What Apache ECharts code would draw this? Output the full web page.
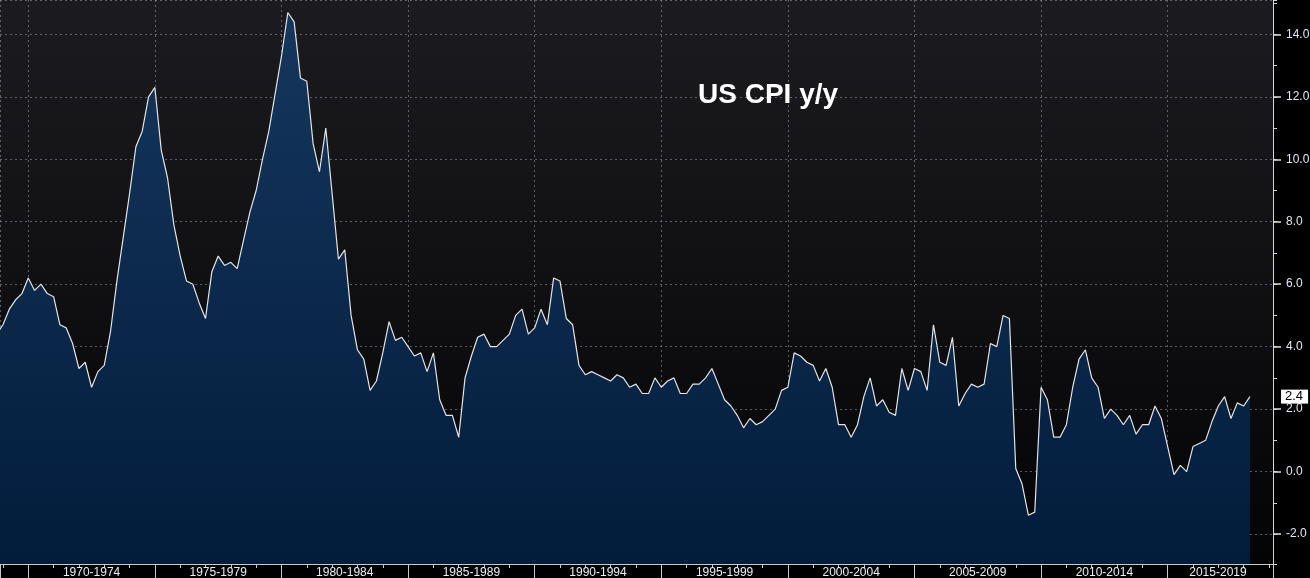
<!DOCTYPE html>
<html>
<head>
<meta charset="utf-8">
<script src="https://cdn.jsdelivr.net/npm/echarts@6/dist/echarts.min.js"></script>
<style>
html,body{margin:0;padding:0;background:#000;}
#chart{width:1310px;height:578px;}
</style>
</head>
<body>
<div id="chart"></div>
<script>
// ---- data (quarter-end US CPI y/y, %) ----
const chartTitle = 'US CPI y/y';
const firstPointYear = 1968.75;   // x position of the first quarterly point
const quarterStep = 0.25;
const cpiFrom1968 = [4.4, 4.7, 5.2, 5.5, 5.7];
const cpiFrom1970 = [6.2, 5.8, 6.0, 5.7, 5.6, 4.7, 4.6, 4.1, 3.3, 3.5,
                     2.7, 3.2, 3.4, 4.5, 6.1, 7.5, 8.9, 10.4, 10.9, 12.0,
                     12.3, 10.3, 9.4, 7.9, 6.9, 6.1, 6.0, 5.4, 4.9, 6.4,
                     6.9, 6.6, 6.7, 6.5, 7.4, 8.3, 9.0, 10.0, 10.9, 12.1];
const cpiFrom1980 = [13.3, 14.7, 14.4, 12.6, 12.5, 10.5, 9.6, 11.0, 8.9, 6.8,
                     7.1, 5.0, 3.9, 3.6, 2.6, 2.9, 3.8, 4.8, 4.2, 4.3,
                     4.0, 3.7, 3.8, 3.2, 3.8, 2.3, 1.8, 1.8, 1.1, 3.0,
                     3.7, 4.3, 4.4, 4.0, 4.0, 4.2, 4.4, 5.0, 5.2, 4.4];
const cpiFrom1990 = [4.6, 5.2, 4.7, 6.2, 6.1, 4.9, 4.7, 3.4, 3.1, 3.2,
                     3.1, 3.0, 2.9, 3.1, 3.0, 2.7, 2.8, 2.5, 2.5, 3.0,
                     2.7, 2.9, 3.0, 2.5, 2.5, 2.8, 2.8, 3.0, 3.3, 2.8,
                     2.3, 2.1, 1.8, 1.4, 1.7, 1.5, 1.6, 1.8, 2.0, 2.6];
const cpiFrom2000 = [2.7, 3.8, 3.7, 3.5, 3.4, 2.9, 3.3, 2.7, 1.5, 1.5,
                     1.1, 1.5, 2.4, 3.0, 2.1, 2.3, 1.9, 1.8, 3.3, 2.6,
                     3.3, 3.2, 2.6, 4.7, 3.5, 3.4, 4.3, 2.1, 2.5, 2.8,
                     2.7, 2.8, 4.1, 4.0, 5.0, 4.9, 0.1, -0.4, -1.4, -1.3];
const cpiFrom2010 = [2.7, 2.3, 1.1, 1.1, 1.5, 2.7, 3.6, 3.9, 3.0, 2.7,
                     1.7, 2.0, 1.8, 1.5, 1.8, 1.2, 1.5, 1.5, 2.1, 1.7,
                     0.8, -0.1, 0.2, 0.0, 0.8, 0.9, 1.0, 1.6, 2.1, 2.4,
                     1.7, 2.2, 2.1, 2.4];
const xExtent = [1968.883, 2019.16];
const yExtent = [-2.96, 15.1];
const bandYears = 5;
const yStep = 2;

// ---- build ----
const cpiValues = [].concat(cpiFrom1968, cpiFrom1970, cpiFrom1980, cpiFrom1990, cpiFrom2000, cpiFrom2010);
const seriesData = cpiValues.map((v, i) => [firstPointYear + i * quarterStep, v]);
const lastValue = cpiValues[cpiValues.length - 1];
const halfBand = bandYears / 2;
const lastBandStart = Math.floor(xExtent[1] / bandYears) * bandYears;

const gridColor = 'rgba(150,160,178,0.55)';
const fontFam = '"Liberation Sans", Arial, sans-serif';

const chart = echarts.init(document.getElementById('chart'), null, {renderer: 'canvas'});
chart.setOption({
  backgroundColor: '#000',
  animation: false,
  title: {
    text: chartTitle,
    left: 693, top: 76,
    textStyle: {color: '#ffffff', fontSize: 28, fontWeight: 'bold', fontFamily: fontFam}
  },
  grid: {
    left: 0, right: 37, top: 0, bottom: 14,
    containLabel: false, outerBoundsMode: 'none',
    show: true, borderWidth: 0,
    backgroundColor: new echarts.graphic.LinearGradient(0, 0, 0, 1, [
      {offset: 0, color: '#1c1c20'},
      {offset: 1, color: '#040406'}
    ])
  },
  xAxis: [
    { // main axis: 5-year boundaries
      type: 'value', min: xExtent[0], max: xExtent[1],
      minInterval: bandYears, maxInterval: bandYears, splitNumber: 10,
      position: 'bottom',
      axisLine: {show: true, onZero: false, lineStyle: {color: '#c9c9c9', width: 1}},
      axisTick: {show: true, length: 14, lineStyle: {color: '#c9c9c9', width: 1}},
      axisLabel: {show: false},
      splitLine: {show: true, lineStyle: {color: gridColor, type: [2, 3], width: 1}}
    },
    { // labels centred on each 5-year band
      type: 'value', min: xExtent[0] - halfBand, max: xExtent[1] - halfBand,
      minInterval: bandYears, maxInterval: bandYears, splitNumber: 10,
      position: 'bottom',
      axisLine: {show: false, onZero: false}, axisTick: {show: false}, splitLine: {show: false},
      axisLabel: {
        show: true, margin: 3, color: '#e8eef6', fontSize: 12, fontFamily: fontFam,
        showMinLabel: false, showMaxLabel: false,
        formatter: function (v) {
          if (Math.abs(v % bandYears) > 1e-6) return '';
          const t = v + '-' + (v + bandYears - 1);
          return v === lastBandStart ? '{last|' + t + '}' : t;
        },
        rich: {last: {color: '#e8eef6', fontSize: 12, fontFamily: fontFam, padding: [0, 26, 0, 0]}}
      }
    },
    { // yearly minor ticks
      type: 'value', min: xExtent[0], max: xExtent[1],
      minInterval: 1, maxInterval: 1, splitNumber: 50,
      position: 'bottom',
      axisLine: {show: false, onZero: false}, splitLine: {show: false}, axisLabel: {show: false},
      axisTick: {show: true, length: 4, lineStyle: {color: '#c9c9c9', width: 1}}
    }
  ],
  yAxis: [
    {
      type: 'value', position: 'right', min: yExtent[0], max: yExtent[1],
      minInterval: yStep, maxInterval: yStep, splitNumber: 9,
      axisLine: {show: true, onZero: false, lineStyle: {color: '#d6d6d6', width: 1}},
      axisTick: {show: true, length: 8, lineStyle: {color: '#e0e0e0', width: 1.5}},
      axisLabel: {
        show: true, margin: 13, color: '#dfe7f1', fontSize: 12, fontFamily: fontFam,
        showMinLabel: false, showMaxLabel: false,
        formatter: function (v) {
          if (Math.abs(v % yStep) > 1e-6) return '';
          return v.toFixed(1);
        }
      },
      splitLine: {show: true, lineStyle: {color: gridColor, type: [2, 3], width: 1}}
    },
    {
      type: 'value', position: 'right', min: yExtent[0], max: yExtent[1],
      minInterval: 1, maxInterval: 1, splitNumber: 18,
      axisLine: {show: false, onZero: false}, splitLine: {show: false}, axisLabel: {show: false},
      axisTick: {show: true, length: 4, lineStyle: {color: '#d6d6d6', width: 1}}
    }
  ],
  series: [{
    type: 'line',
    xAxisIndex: 0, yAxisIndex: 0,
    data: seriesData,
    showSymbol: false,
    clip: true,
    lineStyle: {color: '#e4e4e4', width: 1.2},
    areaStyle: {
      origin: 'start',
      opacity: 1,
      color: new echarts.graphic.LinearGradient(0, 0, 0, 564, [
        {offset: 0, color: '#16375e'},
        {offset: 1, color: '#021c3b'}
      ], true)
    },
    markLine: {
      silent: true, symbol: 'none',
      lineStyle: {color: 'rgba(0,0,0,0)', width: 0},
      label: {
        show: true, position: 'end', distance: 8,
        formatter: function (p) { return Number(p.value).toFixed(1); },
        backgroundColor: '#ffffff', color: '#000000',
        fontSize: 13, fontFamily: fontFam, padding: [1, 5, 0, 4]
      },
      data: [{yAxis: lastValue}]
    }
  }]
});
</script>
</body>
</html>
